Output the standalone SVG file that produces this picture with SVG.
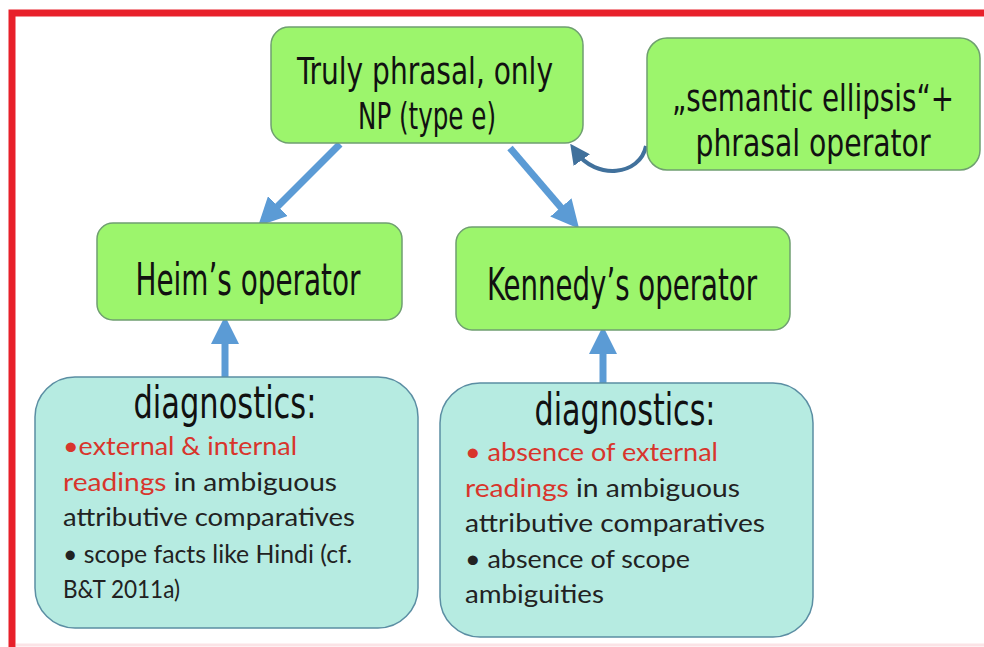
<svg xmlns="http://www.w3.org/2000/svg" width="984" height="647" viewBox="0 0 984 647">
<defs>
<style>
.g{fill:#9cf56c;stroke:#6f9f70;stroke-width:1.5}
.t{fill:#b6ebe1;stroke:#5b8ea3;stroke-width:1.5}
.h{font-family:"Liberation Sans Narrow","DejaVu Sans Condensed",sans-serif;fill:#111;font-size:38px}
.d{font-size:44px}
.b{font-family:Lato,"Liberation Sans",sans-serif;font-size:25px;fill:#222}
.r{fill:#d8352c}
.a{stroke:#5b9bd5;stroke-width:7;fill:none}
</style>
<marker id="ah" viewBox="0 0 10 10" refX="5" refY="5" markerWidth="4" markerHeight="4" orient="auto" markerUnits="strokeWidth">
<path d="M0,0 L10,5 L0,10 z" fill="#5b9bd5"/>
</marker>
<marker id="ah2" viewBox="0 0 10 10" refX="5" refY="5" markerWidth="5" markerHeight="5" orient="auto" markerUnits="strokeWidth">
<path d="M0,0 L10,5 L0,10 z" fill="#41719c"/>
</marker>
</defs>
<rect x="0" y="0" width="984" height="647" fill="#fff"/>
<path d="M12,647 L12,13 L984,13" fill="none" stroke="#e8202a" stroke-width="7"/>
<line x1="16" y1="645" x2="984" y2="645" stroke="#fbe3e6" stroke-width="3"/>

<g id="connectors">
<line class="a" x1="340" y1="144" x2="268" y2="216" marker-end="url(#ah)"/>
<line class="a" x1="510" y1="148" x2="570" y2="218" marker-end="url(#ah)"/>
<line class="a" x1="225" y1="377" x2="225" y2="330" marker-end="url(#ah)"/>
<line class="a" x1="603" y1="383" x2="603" y2="340" marker-end="url(#ah)"/>
<path d="M646,146 C640,176 596,180 576,152" fill="none" stroke="#41719c" stroke-width="4" marker-end="url(#ah2)"/>
</g>

<g id="n-top">
<rect class="g" x="271" y="27" width="312" height="116" rx="18"/>
<text class="h" x="425" y="84" text-anchor="middle" textLength="256" lengthAdjust="spacingAndGlyphs">Truly phrasal, only</text>
<text class="h" x="427" y="129" text-anchor="middle" textLength="138" lengthAdjust="spacingAndGlyphs">NP (type e)</text>
</g>

<g id="n-ellipsis">
<rect class="g" x="647" y="38" width="333" height="132" rx="20"/>
<text class="h" x="813" y="111" text-anchor="middle" textLength="282" lengthAdjust="spacingAndGlyphs">„semantic ellipsis“+</text>
<text class="h" x="813" y="156" text-anchor="middle" textLength="235" lengthAdjust="spacingAndGlyphs">phrasal operator</text>
</g>

<g id="n-heim">
<rect class="g" x="97" y="223" width="305" height="97" rx="16"/>
<text class="h d" x="248" y="295" text-anchor="middle" textLength="225" lengthAdjust="spacingAndGlyphs">Heim’s operator</text>
</g>

<g id="n-kennedy">
<rect class="g" x="456" y="227" width="334" height="103" rx="16"/>
<text class="h d" x="622" y="300" text-anchor="middle" textLength="270" lengthAdjust="spacingAndGlyphs">Kennedy’s operator</text>
</g>

<g id="n-diag-left">
<rect class="t" x="35" y="377" width="383" height="251" rx="40"/>
<text class="h d" x="225" y="418" text-anchor="middle" textLength="183" lengthAdjust="spacingAndGlyphs">diagnostics:</text>
<text class="b" x="63" y="455" textLength="234" lengthAdjust="spacingAndGlyphs"><tspan class="r">•external &amp; internal</tspan></text>
<text class="b" x="63" y="491" textLength="274" lengthAdjust="spacingAndGlyphs"><tspan class="r">readings</tspan> in ambiguous</text>
<text class="b" x="63" y="526" textLength="292" lengthAdjust="spacingAndGlyphs">attributive comparatives</text>
<text class="b" x="63" y="563" textLength="289" lengthAdjust="spacingAndGlyphs">• scope facts like Hindi (cf.</text>
<text class="b" x="63" y="598" textLength="117" lengthAdjust="spacingAndGlyphs">B&amp;T 2011a)</text>
</g>

<g id="n-diag-right">
<rect class="t" x="440" y="383" width="373" height="254" rx="40"/>
<text class="h d" x="625" y="425" text-anchor="middle" textLength="181" lengthAdjust="spacingAndGlyphs">diagnostics:</text>
<text class="b" x="465" y="461" textLength="253" lengthAdjust="spacingAndGlyphs"><tspan class="r">• absence of external</tspan></text>
<text class="b" x="465" y="497" textLength="275" lengthAdjust="spacingAndGlyphs"><tspan class="r">readings</tspan> in ambiguous</text>
<text class="b" x="465" y="532" textLength="300" lengthAdjust="spacingAndGlyphs">attributive comparatives</text>
<text class="b" x="465" y="568" textLength="225" lengthAdjust="spacingAndGlyphs">• absence of scope</text>
<text class="b" x="465" y="603" textLength="139" lengthAdjust="spacingAndGlyphs">ambiguities</text>
</g>
</svg>
